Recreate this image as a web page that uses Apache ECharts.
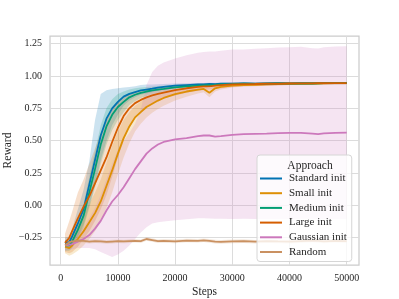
<!DOCTYPE html>
<html><head><meta charset="utf-8">
<script src="https://cdn.jsdelivr.net/npm/echarts@6/dist/echarts.min.js"></script>
<style>html,body{margin:0;padding:0;background:#fff}#c{width:399px;height:299px}</style>
</head><body><div id="c"></div>
<script>
const steps = [750,1500,2000,3000,4000,5000,6000,7000,8000,9000,10000,11000,12000,13000,14000,15000,16000,17000,18000,20000,22000,24000,25000,26000,27000,28000,30000,32000,34000,36000,38000,40000,42000,44000,45000,46000,48000,50000];
const xTicks = [0,10000,20000,30000,40000,50000];
const yTicks = [-0.25,0,0.25,0.5,0.75,1.0,1.25];
const names = ['Standard init','Small init','Medium init','Large init','Gaussian init','Random'];

const standardMean = [-0.29,-0.285,-0.24,-0.14,-0.03,0.16,0.35,0.54,0.67,0.75,0.80,0.84,0.862,0.875,0.888,0.895,0.902,0.91,0.915,0.925,0.93,0.935,0.935,0.938,0.937,0.94,0.94,0.942,0.94,0.943,0.944,0.943,0.945,0.944,0.945,0.945,0.946,0.946];
const standardLow = [-0.33,-0.32,-0.30,-0.24,-0.15,0.0,0.16,0.35,0.50,0.62,0.70,0.77,0.81,0.835,0.855,0.865,0.875,0.885,0.893,0.905,0.915,0.92,0.922,0.925,0.925,0.928,0.93,0.932,0.931,0.934,0.935,0.935,0.937,0.936,0.937,0.937,0.938,0.938];
const standardHigh = [-0.25,-0.24,-0.18,-0.03,0.12,0.34,0.66,0.86,0.89,0.90,0.905,0.91,0.915,0.92,0.93,0.935,0.935,0.937,0.938,0.942,0.944,0.946,0.946,0.948,0.948,0.95,0.95,0.952,0.95,0.952,0.953,0.952,0.953,0.952,0.953,0.953,0.954,0.954];

const smallMean = [-0.32,-0.33,-0.31,-0.26,-0.20,-0.13,-0.06,0.03,0.15,0.27,0.40,0.52,0.61,0.68,0.72,0.76,0.785,0.81,0.83,0.86,0.88,0.895,0.90,0.87,0.905,0.915,0.925,0.93,0.932,0.935,0.938,0.94,0.94,0.942,0.942,0.943,0.944,0.944];
const smallLow = [-0.37,-0.39,-0.38,-0.35,-0.31,-0.26,-0.2,-0.12,-0.02,0.1,0.24,0.37,0.48,0.57,0.63,0.68,0.715,0.745,0.77,0.81,0.84,0.865,0.875,0.835,0.88,0.895,0.91,0.918,0.92,0.925,0.928,0.93,0.931,0.933,0.933,0.934,0.935,0.935];
const smallHigh = [-0.27,-0.26,-0.22,-0.15,-0.07,0.01,0.1,0.2,0.33,0.46,0.57,0.66,0.72,0.77,0.8,0.83,0.848,0.862,0.875,0.895,0.91,0.92,0.925,0.905,0.928,0.935,0.94,0.942,0.944,0.946,0.948,0.95,0.95,0.951,0.951,0.952,0.953,0.953];

const mediumMean = [-0.31,-0.31,-0.28,-0.19,-0.08,0.10,0.28,0.47,0.61,0.70,0.76,0.80,0.835,0.855,0.87,0.88,0.888,0.895,0.90,0.912,0.92,0.925,0.928,0.93,0.932,0.935,0.937,0.94,0.938,0.94,0.942,0.941,0.943,0.942,0.943,0.944,0.944,0.945];
const mediumLow = [-0.35,-0.35,-0.33,-0.26,-0.17,-0.02,0.14,0.32,0.47,0.58,0.66,0.72,0.775,0.805,0.83,0.845,0.858,0.867,0.875,0.892,0.902,0.91,0.914,0.917,0.92,0.924,0.927,0.93,0.929,0.931,0.933,0.932,0.934,0.933,0.934,0.935,0.935,0.936];
const mediumHigh = [-0.27,-0.27,-0.23,-0.12,0.01,0.22,0.42,0.62,0.75,0.82,0.86,0.88,0.895,0.905,0.91,0.915,0.918,0.922,0.925,0.932,0.938,0.94,0.942,0.943,0.944,0.946,0.947,0.95,0.947,0.949,0.951,0.95,0.952,0.951,0.952,0.953,0.953,0.954];

const largeMean = [-0.29,-0.25,-0.20,-0.10,-0.01,0.07,0.17,0.27,0.37,0.49,0.60,0.69,0.75,0.79,0.815,0.835,0.85,0.862,0.872,0.89,0.905,0.915,0.92,0.92,0.925,0.93,0.935,0.937,0.938,0.94,0.94,0.942,0.943,0.943,0.944,0.944,0.945,0.945];
const largeLow = [-0.36,-0.37,-0.36,-0.32,-0.26,-0.2,-0.12,-0.03,0.08,0.22,0.37,0.5,0.6,0.67,0.72,0.76,0.79,0.81,0.825,0.85,0.87,0.885,0.892,0.895,0.9,0.905,0.915,0.92,0.922,0.925,0.927,0.93,0.932,0.932,0.934,0.934,0.936,0.936];
const largeHigh = [-0.22,-0.12,-0.05,0.1,0.2,0.32,0.44,0.56,0.66,0.74,0.8,0.835,0.86,0.875,0.885,0.892,0.9,0.905,0.91,0.92,0.93,0.937,0.94,0.94,0.943,0.946,0.948,0.95,0.95,0.952,0.952,0.953,0.953,0.953,0.954,0.954,0.954,0.954];

const gaussianMean = [-0.31,-0.305,-0.30,-0.28,-0.26,-0.23,-0.18,-0.12,-0.04,0.03,0.08,0.14,0.21,0.28,0.34,0.40,0.44,0.47,0.49,0.51,0.52,0.535,0.54,0.54,0.532,0.535,0.545,0.55,0.553,0.555,0.558,0.56,0.56,0.555,0.55,0.557,0.561,0.562];
const gaussianLow = [-0.35,-0.345,-0.34,-0.33,-0.33,-0.33,-0.34,-0.36,-0.38,-0.40,-0.38,-0.35,-0.31,-0.26,-0.21,-0.17,-0.14,-0.13,-0.125,-0.115,-0.108,-0.10,-0.10,-0.102,-0.104,-0.103,-0.105,-0.104,-0.106,-0.105,-0.106,-0.105,-0.104,-0.106,-0.107,-0.106,-0.105,-0.105];
const gaussianHigh = [-0.27,-0.26,-0.25,-0.22,-0.17,-0.10,-0.02,0.08,0.2,0.32,0.43,0.5,0.56,0.63,0.74,0.93,1.03,1.08,1.105,1.135,1.16,1.18,1.185,1.19,1.19,1.195,1.205,1.205,1.21,1.215,1.22,1.222,1.225,1.215,1.212,1.222,1.228,1.23];

const randomMean = [-0.31,-0.285,-0.278,-0.272,-0.275,-0.28,-0.276,-0.278,-0.283,-0.28,-0.277,-0.279,-0.276,-0.274,-0.277,-0.26,-0.268,-0.277,-0.275,-0.278,-0.272,-0.274,-0.27,-0.275,-0.28,-0.282,-0.278,-0.276,-0.281,-0.277,-0.279,-0.28,-0.276,-0.272,-0.275,-0.278,-0.274,-0.276];
const randomLow = [-0.325,-0.3,-0.292,-0.286,-0.289,-0.294,-0.29,-0.292,-0.297,-0.294,-0.291,-0.293,-0.29,-0.288,-0.291,-0.274,-0.282,-0.291,-0.289,-0.292,-0.286,-0.288,-0.284,-0.289,-0.294,-0.296,-0.292,-0.29,-0.295,-0.291,-0.293,-0.294,-0.29,-0.286,-0.289,-0.292,-0.288,-0.29];
const randomHigh = [-0.295,-0.27,-0.264,-0.258,-0.261,-0.266,-0.262,-0.264,-0.269,-0.266,-0.263,-0.265,-0.262,-0.26,-0.263,-0.246,-0.254,-0.263,-0.261,-0.264,-0.258,-0.26,-0.256,-0.261,-0.266,-0.268,-0.264,-0.262,-0.267,-0.263,-0.265,-0.266,-0.262,-0.258,-0.261,-0.264,-0.26,-0.262];

const colors = ['#0173b2','#de8f05','#029e73','#d55e00','#cc78bc','#ca9161'];
const bandFills = ['rgba(1,115,178,0.2)','rgba(222,143,5,0.2)','rgba(2,158,115,0.2)','rgba(213,94,0,0.2)','rgba(204,120,188,0.2)','rgba(202,145,97,0.2)'];
const means = [standardMean, smallMean, mediumMean, largeMean, gaussianMean, randomMean];
const lows = [standardLow, smallLow, mediumLow, largeLow, gaussianLow, randomLow];
const highs = [standardHigh, smallHigh, mediumHigh, largeHigh, gaussianHigh, randomHigh];

const FONT = 'Liberation Serif';
const series = [];
names.forEach((n, i) => {
  const rows = steps.map((s, k) => [s, lows[i][k], highs[i][k]]);
  series.push({
    name: n + ' band', type: 'custom', silent: true,
    encode: { x: 0, y: [1, 2] },
    data: rows,
    renderItem: (params, api) => {
      if (params.dataIndex !== 0) return null;
      const pts = [];
      for (let k = 0; k < rows.length; k++) pts.push(api.coord([rows[k][0], rows[k][2]]));
      for (let k = rows.length - 1; k >= 0; k--) pts.push(api.coord([rows[k][0], rows[k][1]]));
      return { type: 'polygon', shape: { points: pts }, style: { fill: bandFills[i], stroke: null } };
    }
  });
  series.push({
    name: n, type: 'line', symbol: 'none', showSymbol: false, color: colors[i],
    lineStyle: { width: 1.8, color: colors[i] },
    data: steps.map((s, k) => [s, means[i][k]])
  });
});

const chart = echarts.init(document.getElementById('c'), null, { renderer: 'canvas' });
chart.setOption({
  animation: false,
  backgroundColor: '#ffffff',
  grid: { left: 50, top: 36, width: 309, height: 229, outerBoundsMode: 'none', containLabel: false,
    show: true, borderColor: '#cccccc', borderWidth: 1.25, backgroundColor: 'transparent' },
  title: {
    text: 'Approach', left: 305, top: 155, textAlign: 'center',
    textStyle: { fontFamily: FONT, fontSize: 11.5, fontWeight: 'normal', color: '#262626' }
  },
  legend: {
    data: names, orient: 'vertical', left: 257, top: 155, icon: 'rect',
    padding: [18, 5, 4, 3], itemWidth: 22, itemHeight: 2, itemGap: 3.7,
    backgroundColor: 'rgba(255,255,255,0.8)', borderColor: '#d6d6d6', borderWidth: 1, borderRadius: 3,
    textStyle: { fontFamily: FONT, fontSize: 11, color: '#262626', padding: [0, 0, 0, 2] }
  },
  xAxis: {
    type: 'value', min: -1870, max: 52150,
    name: 'Steps', nameLocation: 'middle', nameGap: 21, nameMoveOverlap: false,
    nameTextStyle: { fontFamily: FONT, fontSize: 11.5, color: '#262626' },
    axisLine: { show: false }, axisTick: { show: false, customValues: xTicks },
    axisLabel: { customValues: xTicks, fontFamily: FONT, fontSize: 10, color: '#262626', margin: 8, formatter: v => String(v) },
    splitLine: { show: true, lineStyle: { color: '#dcdcdc', width: 1 } }
  },
  yAxis: {
    type: 'value', min: -0.461, max: 1.309,
    name: 'Reward', nameLocation: 'middle', nameGap: 36, nameMoveOverlap: false,
    nameTextStyle: { fontFamily: FONT, fontSize: 11.5, color: '#262626' },
    axisLine: { show: false }, axisTick: { show: false, customValues: yTicks },
    axisLabel: { customValues: yTicks, fontFamily: FONT, fontSize: 10, color: '#262626', margin: 8,
      formatter: v => (v < 0 ? '\u2212' : '') + Math.abs(v).toFixed(2) },
    splitLine: { show: true, lineStyle: { color: '#dcdcdc', width: 1 } }
  },
  series: series
});
</script>
</body></html>
